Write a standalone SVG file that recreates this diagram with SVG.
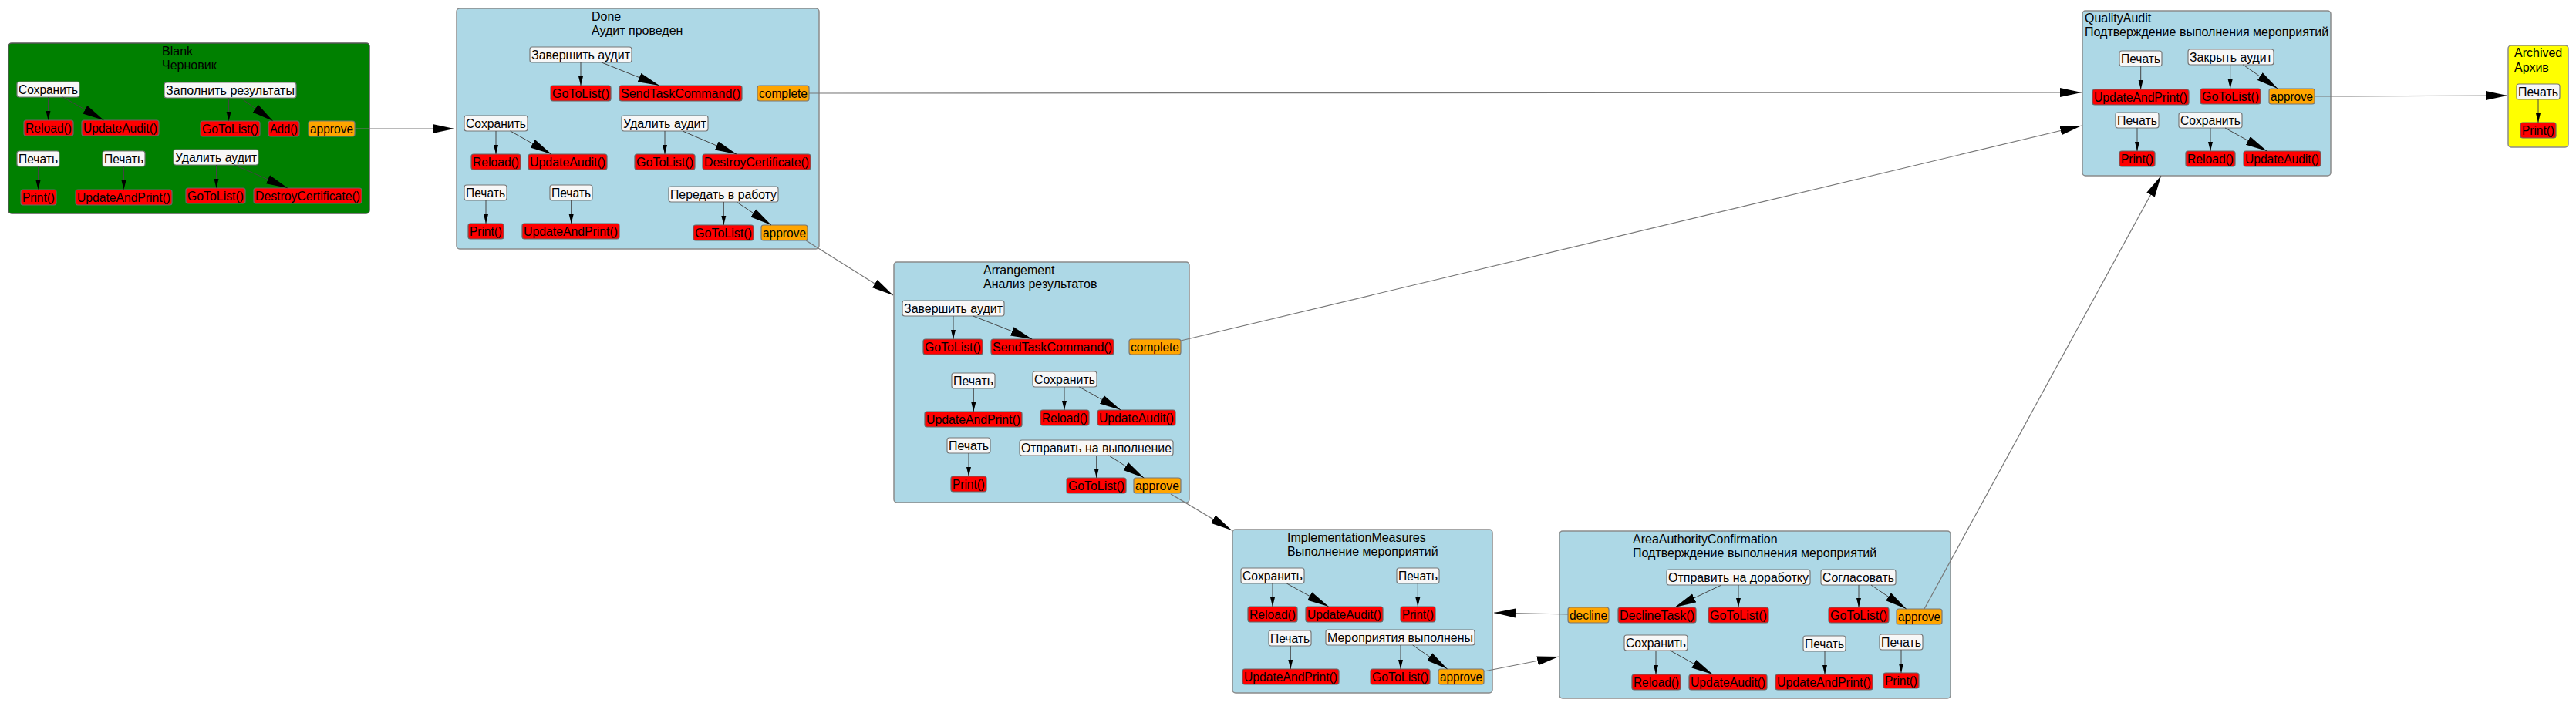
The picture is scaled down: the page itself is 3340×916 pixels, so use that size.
<svg xmlns="http://www.w3.org/2000/svg" width="3340" height="916" viewBox="0 0 3340 916">
<style>
.st{fill:#ADD8E6;stroke:#8a8a8a;stroke-width:1.5}
.blank{fill:#008000;stroke:#555;stroke-width:1.5}
.arch{fill:#FFFF00;stroke:#8a8a8a;stroke-width:1.5}
.cmd{fill:#F7F7F7;stroke:#777;stroke-width:1.2}
.act{fill:#FF0000;stroke:#666;stroke-width:1.2}
.tr{fill:#FFA500;stroke:#777;stroke-width:1.2}
text{font-family:"Liberation Sans",Arial,sans-serif;font-size:16px;fill:#000}
.t{text-anchor:middle}
.e{fill:none;stroke:#444;stroke-width:1}
.x{fill:none;stroke:#777;stroke-width:1.2}
</style>
<defs>
<marker id="s" markerUnits="userSpaceOnUse" markerWidth="12" markerHeight="8" refX="12" refY="4" orient="auto" viewBox="0 0 12 8"><path d="M0,1 L12,4 L0,7 z" fill="#000"/></marker>
<marker id="l" markerUnits="userSpaceOnUse" markerWidth="28" markerHeight="14" refX="28" refY="7" orient="auto" viewBox="0 0 28 14"><path d="M0,1 L28,7 L0,13 z" fill="#000"/></marker>
</defs>
<rect width="3340" height="916" fill="#fff"/>

<g id="state-Blank">
<rect class="blank" x="11" y="56" width="468" height="221" rx="4"/>
<text x="210" y="72">Blank</text><text x="210" y="90">Черновик</text>
<g id="b-save"><rect class="cmd" x="22" y="106" width="81" height="20" rx="3"/><text class="t" x="62.5" y="121.5" textLength="77" lengthAdjust="spacingAndGlyphs">Сохранить</text></g>
<g id="b-reload"><rect class="act" x="31" y="156" width="64" height="20" rx="3"/><text class="t" x="63" y="171.5" textLength="60" lengthAdjust="spacingAndGlyphs">Reload()</text></g>
<g id="b-upd"><rect class="act" x="106" y="156" width="100" height="20" rx="3"/><text class="t" x="156" y="171.5" textLength="96" lengthAdjust="spacingAndGlyphs">UpdateAudit()</text></g>
<g id="b-fill"><rect class="cmd" x="213" y="107" width="171" height="20" rx="3"/><text class="t" x="298.5" y="122.5" textLength="167" lengthAdjust="spacingAndGlyphs">Заполнить результаты</text></g>
<g id="b-goto1"><rect class="act" x="260" y="157" width="77" height="20" rx="3"/><text class="t" x="298.5" y="172.5" textLength="73" lengthAdjust="spacingAndGlyphs">GoToList()</text></g>
<g id="b-add"><rect class="act" x="348" y="157" width="40" height="20" rx="3"/><text class="t" x="368" y="172.5" textLength="36" lengthAdjust="spacingAndGlyphs">Add()</text></g>
<g id="b-approve"><rect class="tr" x="400" y="157" width="60" height="20" rx="3"/><text class="t" x="430" y="172.5" textLength="56" lengthAdjust="spacingAndGlyphs">approve</text></g>
<g id="b-print1"><rect class="cmd" x="22" y="196" width="55" height="20" rx="3"/><text class="t" x="49.5" y="211.5" textLength="51" lengthAdjust="spacingAndGlyphs">Печать</text></g>
<g id="b-print2"><rect class="cmd" x="133" y="196" width="55" height="20" rx="3"/><text class="t" x="160.5" y="211.5" textLength="51" lengthAdjust="spacingAndGlyphs">Печать</text></g>
<g id="b-del"><rect class="cmd" x="225" y="194" width="110" height="20" rx="3"/><text class="t" x="280" y="209.5" textLength="106" lengthAdjust="spacingAndGlyphs">Удалить аудит</text></g>
<g id="b-printA"><rect class="act" x="27" y="246" width="46" height="20" rx="3"/><text class="t" x="50" y="261.5" textLength="42" lengthAdjust="spacingAndGlyphs">Print()</text></g>
<g id="b-uap"><rect class="act" x="98" y="246" width="125" height="20" rx="3"/><text class="t" x="160.5" y="261.5" textLength="121" lengthAdjust="spacingAndGlyphs">UpdateAndPrint()</text></g>
<g id="b-goto2"><rect class="act" x="241" y="244" width="77" height="20" rx="3"/><text class="t" x="279.5" y="259.5" textLength="73" lengthAdjust="spacingAndGlyphs">GoToList()</text></g>
<g id="b-destroy"><rect class="act" x="329" y="244" width="140" height="20" rx="3"/><text class="t" x="399" y="259.5" textLength="136" lengthAdjust="spacingAndGlyphs">DestroyCertificate()</text></g>
</g>

<g id="state-Done">
<rect class="st" x="592" y="11" width="470" height="312" rx="4"/>
<text x="767" y="27">Done</text><text x="767" y="45">Аудит проведен</text>
<g id="d-finish"><rect class="cmd" x="687" y="61" width="132" height="20" rx="3"/><text class="t" x="753" y="76.5" textLength="128" lengthAdjust="spacingAndGlyphs">Завершить аудит</text></g>
<g id="d-goto1"><rect class="act" x="714" y="111" width="78" height="20" rx="3"/><text class="t" x="753" y="126.5" textLength="74" lengthAdjust="spacingAndGlyphs">GoToList()</text></g>
<g id="d-send"><rect class="act" x="803" y="111" width="159" height="20" rx="3"/><text class="t" x="882.5" y="126.5" textLength="155" lengthAdjust="spacingAndGlyphs">SendTaskCommand()</text></g>
<g id="d-complete"><rect class="tr" x="982" y="111" width="67" height="20" rx="3"/><text class="t" x="1015.5" y="126.5" textLength="63" lengthAdjust="spacingAndGlyphs">complete</text></g>
<g id="d-save"><rect class="cmd" x="602" y="150" width="82" height="20" rx="3"/><text class="t" x="643" y="165.5" textLength="78" lengthAdjust="spacingAndGlyphs">Сохранить</text></g>
<g id="d-reload"><rect class="act" x="611" y="200" width="64" height="20" rx="3"/><text class="t" x="643" y="215.5" textLength="60" lengthAdjust="spacingAndGlyphs">Reload()</text></g>
<g id="d-upd"><rect class="act" x="685" y="200" width="102" height="20" rx="3"/><text class="t" x="736" y="215.5" textLength="98" lengthAdjust="spacingAndGlyphs">UpdateAudit()</text></g>
<g id="d-del"><rect class="cmd" x="806" y="150" width="112" height="20" rx="3"/><text class="t" x="862" y="165.5" textLength="108" lengthAdjust="spacingAndGlyphs">Удалить аудит</text></g>
<g id="d-goto2"><rect class="act" x="823" y="200" width="78" height="20" rx="3"/><text class="t" x="862" y="215.5" textLength="74" lengthAdjust="spacingAndGlyphs">GoToList()</text></g>
<g id="d-destroy"><rect class="act" x="911" y="200" width="140" height="20" rx="3"/><text class="t" x="981" y="215.5" textLength="136" lengthAdjust="spacingAndGlyphs">DestroyCertificate()</text></g>
<g id="d-print1"><rect class="cmd" x="602" y="240" width="55" height="20" rx="3"/><text class="t" x="629.5" y="255.5" textLength="51" lengthAdjust="spacingAndGlyphs">Печать</text></g>
<g id="d-print2"><rect class="cmd" x="713" y="240" width="55" height="20" rx="3"/><text class="t" x="740.5" y="255.5" textLength="51" lengthAdjust="spacingAndGlyphs">Печать</text></g>
<g id="d-pass"><rect class="cmd" x="867" y="242" width="142" height="20" rx="3"/><text class="t" x="938" y="257.5" textLength="138" lengthAdjust="spacingAndGlyphs">Передать в работу</text></g>
<g id="d-printA"><rect class="act" x="607" y="290" width="46" height="20" rx="3"/><text class="t" x="630" y="305.5" textLength="42" lengthAdjust="spacingAndGlyphs">Print()</text></g>
<g id="d-uap"><rect class="act" x="677" y="290" width="126" height="20" rx="3"/><text class="t" x="740" y="305.5" textLength="122" lengthAdjust="spacingAndGlyphs">UpdateAndPrint()</text></g>
<g id="d-goto3"><rect class="act" x="899" y="292" width="78" height="20" rx="3"/><text class="t" x="938" y="307.5" textLength="74" lengthAdjust="spacingAndGlyphs">GoToList()</text></g>
<g id="d-approve"><rect class="tr" x="987" y="292" width="60" height="20" rx="3"/><text class="t" x="1017" y="307.5" textLength="56" lengthAdjust="spacingAndGlyphs">approve</text></g>
</g>

<g id="state-Arrangement">
<rect class="st" x="1159" y="340" width="383" height="312" rx="4"/>
<text x="1275" y="356">Arrangement</text><text x="1275" y="374">Анализ результатов</text>
<g id="a-finish"><rect class="cmd" x="1170" y="390" width="132" height="20" rx="3"/><text class="t" x="1236" y="405.5" textLength="128" lengthAdjust="spacingAndGlyphs">Завершить аудит</text></g>
<g id="a-goto1"><rect class="act" x="1197" y="440" width="77" height="20" rx="3"/><text class="t" x="1235.5" y="455.5" textLength="73" lengthAdjust="spacingAndGlyphs">GoToList()</text></g>
<g id="a-send"><rect class="act" x="1285" y="440" width="159" height="20" rx="3"/><text class="t" x="1364.5" y="455.5" textLength="155" lengthAdjust="spacingAndGlyphs">SendTaskCommand()</text></g>
<g id="a-complete"><rect class="tr" x="1464" y="440" width="67" height="20" rx="3"/><text class="t" x="1497.5" y="455.5" textLength="63" lengthAdjust="spacingAndGlyphs">complete</text></g>
<g id="a-print1"><rect class="cmd" x="1234" y="484" width="56" height="20" rx="3"/><text class="t" x="1262" y="499.5" textLength="52" lengthAdjust="spacingAndGlyphs">Печать</text></g>
<g id="a-save"><rect class="cmd" x="1339" y="482" width="83" height="20" rx="3"/><text class="t" x="1380.5" y="497.5" textLength="79" lengthAdjust="spacingAndGlyphs">Сохранить</text></g>
<g id="a-uap"><rect class="act" x="1199" y="534" width="126" height="20" rx="3"/><text class="t" x="1262" y="549.5" textLength="122" lengthAdjust="spacingAndGlyphs">UpdateAndPrint()</text></g>
<g id="a-reload"><rect class="act" x="1349" y="532" width="63" height="20" rx="3"/><text class="t" x="1380.5" y="547.5" textLength="59" lengthAdjust="spacingAndGlyphs">Reload()</text></g>
<g id="a-upd"><rect class="act" x="1423" y="532" width="101" height="20" rx="3"/><text class="t" x="1473.5" y="547.5" textLength="97" lengthAdjust="spacingAndGlyphs">UpdateAudit()</text></g>
<g id="a-print2"><rect class="cmd" x="1228" y="568" width="56" height="20" rx="3"/><text class="t" x="1256" y="583.5" textLength="52" lengthAdjust="spacingAndGlyphs">Печать</text></g>
<g id="a-send2"><rect class="cmd" x="1322" y="571" width="199" height="20" rx="3"/><text class="t" x="1421.5" y="586.5" textLength="195" lengthAdjust="spacingAndGlyphs">Отправить на выполнение</text></g>
<g id="a-printA"><rect class="act" x="1233" y="618" width="46" height="20" rx="3"/><text class="t" x="1256" y="633.5" textLength="42" lengthAdjust="spacingAndGlyphs">Print()</text></g>
<g id="a-goto2"><rect class="act" x="1383" y="620" width="77" height="20" rx="3"/><text class="t" x="1421.5" y="635.5" textLength="73" lengthAdjust="spacingAndGlyphs">GoToList()</text></g>
<g id="a-approve"><rect class="tr" x="1470" y="620" width="61" height="20" rx="3"/><text class="t" x="1500.5" y="635.5" textLength="57" lengthAdjust="spacingAndGlyphs">approve</text></g>
</g>

<g id="state-ImplementationMeasures">
<rect class="st" x="1598" y="687" width="337" height="212" rx="4"/>
<text x="1669" y="703">ImplementationMeasures</text><text x="1669" y="721">Выполнение мероприятий</text>
<g id="i-save"><rect class="cmd" x="1609" y="737" width="82" height="20" rx="3"/><text class="t" x="1650" y="752.5" textLength="78" lengthAdjust="spacingAndGlyphs">Сохранить</text></g>
<g id="i-reload"><rect class="act" x="1618" y="787" width="64" height="20" rx="3"/><text class="t" x="1650" y="802.5" textLength="60" lengthAdjust="spacingAndGlyphs">Reload()</text></g>
<g id="i-upd"><rect class="act" x="1693" y="787" width="100" height="20" rx="3"/><text class="t" x="1743" y="802.5" textLength="96" lengthAdjust="spacingAndGlyphs">UpdateAudit()</text></g>
<g id="i-print1"><rect class="cmd" x="1811" y="737" width="55" height="20" rx="3"/><text class="t" x="1838.5" y="752.5" textLength="51" lengthAdjust="spacingAndGlyphs">Печать</text></g>
<g id="i-printA"><rect class="act" x="1816" y="787" width="45" height="20" rx="3"/><text class="t" x="1838.5" y="802.5" textLength="41" lengthAdjust="spacingAndGlyphs">Print()</text></g>
<g id="i-print2"><rect class="cmd" x="1645" y="818" width="55" height="20" rx="3"/><text class="t" x="1672.5" y="833.5" textLength="51" lengthAdjust="spacingAndGlyphs">Печать</text></g>
<g id="i-done"><rect class="cmd" x="1719" y="817" width="193" height="20" rx="3"/><text class="t" x="1815.5" y="832.5" textLength="189" lengthAdjust="spacingAndGlyphs">Мероприятия выполнены</text></g>
<g id="i-uap"><rect class="act" x="1611" y="868" width="125" height="20" rx="3"/><text class="t" x="1673.5" y="883.5" textLength="121" lengthAdjust="spacingAndGlyphs">UpdateAndPrint()</text></g>
<g id="i-goto"><rect class="act" x="1777" y="868" width="77" height="20" rx="3"/><text class="t" x="1815.5" y="883.5" textLength="73" lengthAdjust="spacingAndGlyphs">GoToList()</text></g>
<g id="i-approve"><rect class="tr" x="1865" y="868" width="59" height="20" rx="3"/><text class="t" x="1894.5" y="883.5" textLength="55" lengthAdjust="spacingAndGlyphs">approve</text></g>
</g>

<g id="state-AreaAuthorityConfirmation">
<rect class="st" x="2022" y="689" width="507" height="217" rx="4"/>
<text x="2117" y="705">AreaAuthorityConfirmation</text><text x="2117" y="723">Подтверждение выполнения мероприятий</text>
<g id="c-rework"><rect class="cmd" x="2161" y="739" width="186" height="20" rx="3"/><text class="t" x="2254" y="754.5" textLength="182" lengthAdjust="spacingAndGlyphs">Отправить на доработку</text></g>
<g id="c-agree"><rect class="cmd" x="2361" y="739" width="97" height="20" rx="3"/><text class="t" x="2409.5" y="754.5" textLength="93" lengthAdjust="spacingAndGlyphs">Согласовать</text></g>
<g id="c-decline"><rect class="tr" x="2033" y="788" width="53" height="20" rx="3"/><text class="t" x="2059.5" y="803.5" textLength="49" lengthAdjust="spacingAndGlyphs">decline</text></g>
<g id="c-dtask"><rect class="act" x="2098" y="788" width="101" height="20" rx="3"/><text class="t" x="2148.5" y="803.5" textLength="97" lengthAdjust="spacingAndGlyphs">DeclineTask()</text></g>
<g id="c-goto1"><rect class="act" x="2215" y="788" width="78" height="20" rx="3"/><text class="t" x="2254" y="803.5" textLength="74" lengthAdjust="spacingAndGlyphs">GoToList()</text></g>
<g id="c-goto2"><rect class="act" x="2371" y="788" width="78" height="20" rx="3"/><text class="t" x="2410" y="803.5" textLength="74" lengthAdjust="spacingAndGlyphs">GoToList()</text></g>
<g id="c-approve"><rect class="tr" x="2459" y="790" width="59" height="20" rx="3"/><text class="t" x="2488.5" y="805.5" textLength="55" lengthAdjust="spacingAndGlyphs">approve</text></g>
<g id="c-save"><rect class="cmd" x="2106" y="824" width="82" height="20" rx="3"/><text class="t" x="2147" y="839.5" textLength="78" lengthAdjust="spacingAndGlyphs">Сохранить</text></g>
<g id="c-reload"><rect class="act" x="2116" y="875" width="63" height="20" rx="3"/><text class="t" x="2147.5" y="890.5" textLength="59" lengthAdjust="spacingAndGlyphs">Reload()</text></g>
<g id="c-upd"><rect class="act" x="2190" y="875" width="101" height="20" rx="3"/><text class="t" x="2240.5" y="890.5" textLength="97" lengthAdjust="spacingAndGlyphs">UpdateAudit()</text></g>
<g id="c-print1"><rect class="cmd" x="2338" y="825" width="55" height="20" rx="3"/><text class="t" x="2365.5" y="840.5" textLength="51" lengthAdjust="spacingAndGlyphs">Печать</text></g>
<g id="c-uap"><rect class="act" x="2302" y="875" width="126" height="20" rx="3"/><text class="t" x="2365" y="890.5" textLength="122" lengthAdjust="spacingAndGlyphs">UpdateAndPrint()</text></g>
<g id="c-print2"><rect class="cmd" x="2437" y="823" width="56" height="20" rx="3"/><text class="t" x="2465" y="838.5" textLength="52" lengthAdjust="spacingAndGlyphs">Печать</text></g>
<g id="c-printA"><rect class="act" x="2442" y="873" width="46" height="20" rx="3"/><text class="t" x="2465" y="888.5" textLength="42" lengthAdjust="spacingAndGlyphs">Print()</text></g>
</g>

<g id="state-QualityAudit">
<rect class="st" x="2700" y="14" width="322" height="214" rx="4"/>
<text x="2703" y="29">QualityAudit</text><text x="2703" y="47">Подтверждение выполнения мероприятий</text>
<g id="q-print1"><rect class="cmd" x="2748" y="66" width="55" height="20" rx="3"/><text class="t" x="2775.5" y="81.5" textLength="51" lengthAdjust="spacingAndGlyphs">Печать</text></g>
<g id="q-close"><rect class="cmd" x="2837" y="64" width="111" height="20" rx="3"/><text class="t" x="2892.5" y="79.5" textLength="107" lengthAdjust="spacingAndGlyphs">Закрыть аудит</text></g>
<g id="q-uap"><rect class="act" x="2713" y="116" width="125" height="20" rx="3"/><text class="t" x="2775.5" y="131.5" textLength="121" lengthAdjust="spacingAndGlyphs">UpdateAndPrint()</text></g>
<g id="q-goto"><rect class="act" x="2853" y="115" width="78" height="20" rx="3"/><text class="t" x="2892" y="130.5" textLength="74" lengthAdjust="spacingAndGlyphs">GoToList()</text></g>
<g id="q-approve"><rect class="tr" x="2942" y="115" width="59" height="20" rx="3"/><text class="t" x="2971.5" y="130.5" textLength="55" lengthAdjust="spacingAndGlyphs">approve</text></g>
<g id="q-print2"><rect class="cmd" x="2743" y="146" width="56" height="20" rx="3"/><text class="t" x="2771" y="161.5" textLength="52" lengthAdjust="spacingAndGlyphs">Печать</text></g>
<g id="q-save"><rect class="cmd" x="2825" y="146" width="82" height="20" rx="3"/><text class="t" x="2866" y="161.5" textLength="78" lengthAdjust="spacingAndGlyphs">Сохранить</text></g>
<g id="q-printA"><rect class="act" x="2748" y="196" width="46" height="20" rx="3"/><text class="t" x="2771" y="211.5" textLength="42" lengthAdjust="spacingAndGlyphs">Print()</text></g>
<g id="q-reload"><rect class="act" x="2834" y="196" width="64" height="20" rx="3"/><text class="t" x="2866" y="211.5" textLength="60" lengthAdjust="spacingAndGlyphs">Reload()</text></g>
<g id="q-upd"><rect class="act" x="2909" y="196" width="100" height="20" rx="3"/><text class="t" x="2959" y="211.5" textLength="96" lengthAdjust="spacingAndGlyphs">UpdateAudit()</text></g>
</g>

<g id="state-Archived">
<rect class="arch" x="3252" y="59" width="78" height="132" rx="4"/>
<text x="3260" y="74">Archived</text><text x="3260" y="93">Архив</text>
<g id="r-print"><rect class="cmd" x="3263" y="109" width="56" height="20" rx="3"/><text class="t" x="3291" y="124.5" textLength="52" lengthAdjust="spacingAndGlyphs">Печать</text></g>
<g id="r-printA"><rect class="act" x="3268" y="159" width="46" height="20" rx="3"/><text class="t" x="3291" y="174.5" textLength="42" lengthAdjust="spacingAndGlyphs">Print()</text></g>
</g>

<g id="connectors">
<!-- Blank -->
<path class="e" d="M62.5,126 L62.5,156" marker-end="url(#s)"/>
<path class="e" d="M81.5,126 L134.7,156" marker-end="url(#l)"/>
<path class="e" d="M296.6,127 L296.6,157" marker-end="url(#s)"/>
<path class="e" d="M311.9,127 L354,157" marker-end="url(#l)"/>
<path class="e" d="M49.5,216 L49.5,246" marker-end="url(#s)"/>
<path class="e" d="M160.5,216 L160.5,246" marker-end="url(#s)"/>
<path class="e" d="M280.5,214 L280.5,244" marker-end="url(#s)"/>
<path class="e" d="M304.2,214 L373.1,244" marker-end="url(#l)"/>
<!-- Done -->
<path class="e" d="M753,81 L753,111" marker-end="url(#s)"/>
<path class="e" d="M780,81 L855,111" marker-end="url(#l)"/>
<path class="e" d="M643,170 L643,200" marker-end="url(#s)"/>
<path class="e" d="M661.7,170 L715,200" marker-end="url(#l)"/>
<path class="e" d="M862,170 L862,200" marker-end="url(#s)"/>
<path class="e" d="M885,170 L955,200" marker-end="url(#l)"/>
<path class="e" d="M630,260 L630,290" marker-end="url(#s)"/>
<path class="e" d="M740.7,260 L740.7,290" marker-end="url(#s)"/>
<path class="e" d="M938.3,262 L938.3,292" marker-end="url(#s)"/>
<path class="e" d="M955,262 L1000,292" marker-end="url(#l)"/>
<!-- Arrangement -->
<path class="e" d="M1236,410 L1236,440" marker-end="url(#s)"/>
<path class="e" d="M1261.7,410 L1338.3,440" marker-end="url(#l)"/>
<path class="e" d="M1262.3,504 L1262.3,534" marker-end="url(#s)"/>
<path class="e" d="M1380,502 L1380,532" marker-end="url(#s)"/>
<path class="e" d="M1399.3,502 L1453.3,532" marker-end="url(#l)"/>
<path class="e" d="M1256,588 L1256,618" marker-end="url(#s)"/>
<path class="e" d="M1421.7,591 L1421.7,620" marker-end="url(#s)"/>
<path class="e" d="M1437.7,591 L1483.3,620" marker-end="url(#l)"/>
<!-- ImplementationMeasures -->
<path class="e" d="M1650,757 L1650,787" marker-end="url(#s)"/>
<path class="e" d="M1668.3,757 L1722.7,787" marker-end="url(#l)"/>
<path class="e" d="M1838.3,757 L1838.3,787" marker-end="url(#s)"/>
<path class="e" d="M1673.3,838 L1673.3,868" marker-end="url(#s)"/>
<path class="e" d="M1816,837 L1816,868" marker-end="url(#s)"/>
<path class="e" d="M1831.7,837 L1876.7,868" marker-end="url(#l)"/>
<!-- AreaAuthorityConfirmation -->
<path class="e" d="M2232,759 L2171.4,788" marker-end="url(#l)"/>
<path class="e" d="M2254,759 L2254,788" marker-end="url(#s)"/>
<path class="e" d="M2410,759 L2410,788" marker-end="url(#s)"/>
<path class="e" d="M2426,759 L2471.7,790" marker-end="url(#l)"/>
<path class="e" d="M2147,844 L2147,875" marker-end="url(#s)"/>
<path class="e" d="M2165.6,844 L2220.7,875" marker-end="url(#l)"/>
<path class="e" d="M2366,845 L2366,875" marker-end="url(#s)"/>
<path class="e" d="M2465,843 L2465,873" marker-end="url(#s)"/>
<!-- QualityAudit -->
<path class="e" d="M2775.7,86 L2775.7,116" marker-end="url(#s)"/>
<path class="e" d="M2891.7,84 L2891.7,115" marker-end="url(#s)"/>
<path class="e" d="M2908.3,84 L2953.3,115" marker-end="url(#l)"/>
<path class="e" d="M2771,166 L2771,196" marker-end="url(#s)"/>
<path class="e" d="M2866,166 L2866,196" marker-end="url(#s)"/>
<path class="e" d="M2885,166 L2939.3,196" marker-end="url(#l)"/>
<!-- Archived -->
<path class="e" d="M3291,129 L3291,159" marker-end="url(#s)"/>
<!-- between states -->
<path class="x" d="M460,167 L589,167" marker-end="url(#l)"/>
<path class="x" d="M1049,121 L2699,120" marker-end="url(#l)"/>
<path class="x" d="M1045,312 L1158,383" marker-end="url(#l)"/>
<path class="x" d="M1531,442 L2699,163" marker-end="url(#l)"/>
<path class="x" d="M1518,641 L1597,688" marker-end="url(#l)"/>
<path class="x" d="M1924,871 L2021,852" marker-end="url(#l)"/>
<path class="x" d="M2033,797 L1937,795" marker-end="url(#l)"/>
<path class="x" d="M2495,790 L2802,228" marker-end="url(#l)"/>
<path class="x" d="M3001,125 L3251,124" marker-end="url(#l)"/>
</g>
</svg>
